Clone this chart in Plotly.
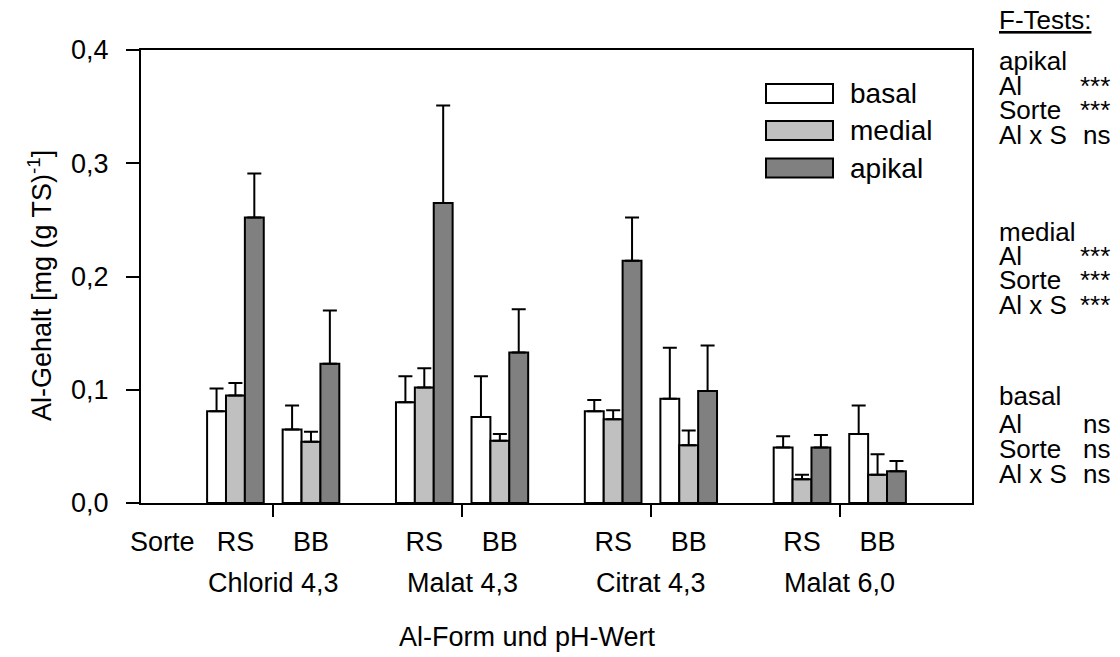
import plotly.graph_objects as go

# Al treatments (form and pH) and cultivars
forms = ["Chlorid 4,3", "Malat 4,3", "Citrat 4,3", "Malat 6,0"]
cultivars = ["RS", "BB"]
segments = ["basal", "medial", "apikal"]

# Al content [mg (g TS)^-1], ordered form by form, RS then BB
basal = [0.081, 0.065, 0.089, 0.076, 0.081, 0.092, 0.049, 0.061]
medial = [0.095, 0.054, 0.102, 0.055, 0.074, 0.051, 0.021, 0.025]
apikal = [0.252, 0.123, 0.265, 0.133, 0.214, 0.099, 0.049, 0.028]

# upper error (standard deviation)
basal_err = [0.020, 0.021, 0.023, 0.036, 0.010, 0.045, 0.010, 0.025]
medial_err = [0.011, 0.009, 0.017, 0.006, 0.008, 0.013, 0.004, 0.018]
apikal_err = [0.039, 0.047, 0.086, 0.038, 0.038, 0.040, 0.011, 0.009]

y_ticks = [0.0, 0.1, 0.2, 0.3, 0.4]

# F-test summary shown beside the plot
ftest_blocks = [
    ("apikal", [("Al", "***"), ("Sorte", "***"), ("Al x S", "ns")]),
    ("medial", [("Al", "***"), ("Sorte", "***"), ("Al x S", "***")]),
    ("basal", [("Al", "ns"), ("Sorte", "ns"), ("Al x S", "ns")]),
]

FONT = "Liberation Sans, Arial, sans-serif"
FS = 27
W, H = 1120, 657
L, R, T, B = 141, 148, 50, 154
PW, PH = W - L - R, H - T - B

def px_x(X):
    return (X - L) / PW

def px_y(Y):
    return (H - B - Y) / PH

# cultivar positions around each form's centre
half = 0.2
xpos = []
for g in range(len(forms)):
    xpos += [g - half, g + half]

bw = 0.1
fills = ["#ffffff", "#c0c0c0", "#808080"]
series = [basal, medial, apikal]
errors = [basal_err, medial_err, apikal_err]

fig = go.Figure()
for i, (name, vals, errs, col) in enumerate(zip(segments, series, errors, fills)):
    fig.add_trace(go.Bar(
        x=xpos, y=vals, name=name,
        width=bw, offset=-1.5 * bw + i * bw,
        marker=dict(color=col, line=dict(color="black", width=2)),
        error_y=dict(type="data", array=errs, symmetric=False,
                     arrayminus=[0] * len(errs),
                     color="black", thickness=2, width=7),
        showlegend=False,
    ))

tickvals = [-0.587] + xpos
ticktext = ["Sorte"] + cultivars * len(forms)

fig.update_layout(
    width=W, height=H,
    margin=dict(l=L, r=R, t=T, b=B, pad=0),
    paper_bgcolor="white", plot_bgcolor="white",
    barmode="overlay",
    separators=",.",
    font=dict(family=FONT, size=FS, color="black"),
    xaxis=dict(
        range=[-0.7, 3.7], showgrid=False, zeroline=False,
        showline=True, linecolor="black", linewidth=2, mirror=True,
        tickvals=tickvals, ticktext=ticktext, ticks="",
        ticklabelstandoff=14,
        tickfont=dict(family=FONT, size=FS, color="black"),
        minor=dict(tickvals=[0, 1, 2, 3], ticks="outside", ticklen=12,
                   tickwidth=2, tickcolor="black", showgrid=False),
    ),
    yaxis=dict(
        range=[0, 0.4], tickvals=y_ticks, tickformat=".1f",
        showgrid=False, zeroline=False,
        showline=True, linecolor="black", linewidth=2, mirror=True,
        ticks="outside", ticklen=13, tickwidth=2, tickcolor="black",
        ticklabelstandoff=12,
        tickfont=dict(family=FONT, size=FS, color="black"),
    ),
)

def note(x, y, text, xanchor="center", xref="paper", size=FS, **kw):
    return dict(x=x, y=y, xref=xref, yref="paper", text=text,
                xanchor=xanchor, yanchor="middle", showarrow=False,
                font=dict(family=FONT, size=size, color="black"), **kw)

ann = []
# y-axis title
ann.append(note(px_x(40), px_y(286), "Al-Gehalt [mg (g TS)<sup>-1</sup>]", textangle=-90))
# form labels
for g, f in enumerate(forms):
    ann.append(note(g, px_y(583), f, xref="x"))
# x-axis title
ann.append(note(px_x(527), px_y(637), "Al-Form und pH-Wert"))

# legend drawn as boxes with labels
shapes = []
leg_rows = [93.5, 130.5, 168]
for name, col, yc in zip(segments, fills, leg_rows):
    shapes.append(dict(type="rect", xref="paper", yref="paper",
                       x0=px_x(766), x1=px_x(833), y0=px_y(yc + 9.5), y1=px_y(yc - 9.5),
                       fillcolor=col, line=dict(color="black", width=2)))
    ann.append(note(px_x(848), px_y(yc), name, xanchor="left", size=28))

# F-test text column
FS_R = 26
xl, xr = px_x(997), px_x(1112)
ann.append(note(xl, px_y(20), "<u>F-Tests:</u>", xanchor="left", size=FS_R))
block_rows = [[61, 86, 110, 135], [232, 256, 280, 305], [396, 424, 449, 474]]
for (title, rows), ys in zip(ftest_blocks, block_rows):
    ann.append(note(xl, px_y(ys[0]), title, xanchor="left", size=FS_R))
    for (lab, sig), yy in zip(rows, ys[1:]):
        ann.append(note(xl, px_y(yy), lab, xanchor="left", size=FS_R))
        ann.append(note(xr, px_y(yy), sig, xanchor="right", size=FS_R))

fig.update_layout(annotations=ann, shapes=shapes)
fig.write_html("out.html")
